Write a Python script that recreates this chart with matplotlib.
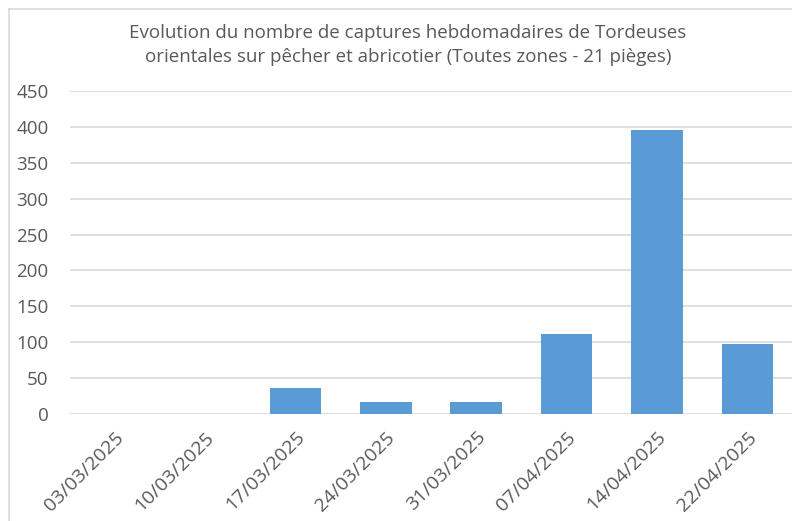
import matplotlib
matplotlib.use('Agg')
from matplotlib import pyplot as plt
from matplotlib.lines import Line2D
import numpy as np

dates = ['03/03/2025', '10/03/2025', '17/03/2025', '24/03/2025',
         '31/03/2025', '07/04/2025', '14/04/2025', '22/04/2025']
captures = [0, 0, 36, 17, 17, 111, 395, 98]

title = ('Evolution du nombre de captures hebdomadaires de Tordeuses\n'
         'orientales sur pêcher et abricotier (Toutes zones - 21 pièges)')

plt.rcParams['font.family'] = ['Open Sans', 'DejaVu Sans']
text_col = '#595959'
grid_col = '#d9d9d9'

fig = plt.figure(figsize=(7.92, 5.21), dpi=100)
ax = fig.add_axes([69.5 / 792, 1 - 414.3 / 521, 723 / 792, (414.3 - 90.7) / 521])

x = np.arange(len(dates))
ax.bar(x, captures, 0.57, color='#5b9bd5', zorder=3)

ax.set_xlim(-0.5, len(dates) - 0.5)
ax.set_ylim(0, 450)
ax.set_yticks(np.arange(0, 451, 50))
ax.grid(axis='y', color=grid_col, linewidth=1.2, zorder=0)
for s in ax.spines.values():
    s.set_visible(False)
ax.tick_params(axis='both', length=0, colors=text_col)
ax.tick_params(axis='y', labelsize=13.5, pad=15)
ax.set_xticks(x)
ax.set_xticklabels(dates, rotation=45, ha='right', va='top',
                   rotation_mode='anchor', fontsize=14, color=text_col)
ax.tick_params(axis='x', pad=10)

fig.text(408 / 792, 1 - 45 / 521, title, ha='center', va='center',
         fontsize=13.5, color=text_col, linespacing=1.5)

# chart frame
fig.add_artist(Line2D([8.5 / 792, 8.5 / 792], [0, 1 - 9 / 521], color=grid_col, lw=1.2))
fig.add_artist(Line2D([8.5 / 792, 1], [1 - 9 / 521, 1 - 9 / 521], color=grid_col, lw=1.2))

fig.savefig('out.png', dpi=100)
